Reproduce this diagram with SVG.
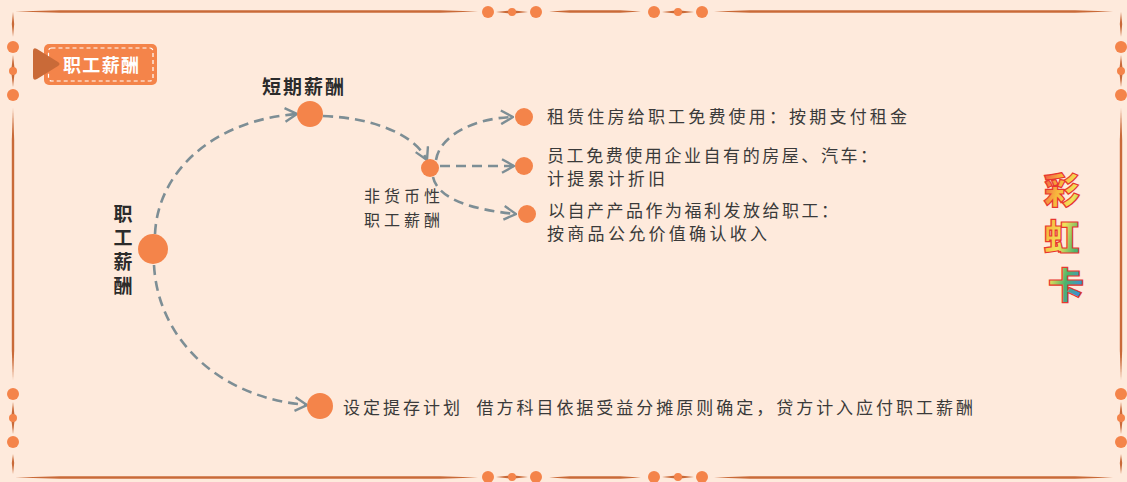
<svg xmlns="http://www.w3.org/2000/svg" xmlns:xlink="http://www.w3.org/1999/xlink" width="1127" height="482" viewBox="0 0 1127 482">
  <defs>
    <style>
      .bg { fill: #FEEADC; }
      .rule { fill: #C96A38; }
      .dot { fill: #F4844A; }
      .link { fill: none; stroke: #7D8E95; stroke-width: 2.6; stroke-dasharray: 10 6; stroke-linecap: butt; }
      .cjk { font-family: "Noto Sans CJK SC", "Noto Sans", sans-serif; }
      .head { font-size: 19px; font-weight: 700; fill: #2b2b2b; }
      .vert { writing-mode: vertical-rl; letter-spacing: 5px; }
      .body { font-size: 17px; font-weight: 400; fill: #3a3a3a; }
      .sub { font-size: 16px; font-weight: 400; fill: #3a3a3a; }
      .badge-text { font-size: 18px; font-weight: 700; fill: #ffffff; }
      .rainbow { font-size: 36px; font-weight: 900; fill: url(#rainbowFill); stroke: #E8372F; stroke-width: 1.2; }
    </style>
    <linearGradient id="rainbowFill" x1="0" y1="0" x2="1" y2="1">
      <stop offset="0" stop-color="#F04848"/>
      <stop offset="0.25" stop-color="#F7B63C"/>
      <stop offset="0.45" stop-color="#F2E25A"/>
      <stop offset="0.65" stop-color="#4FB56A"/>
      <stop offset="0.85" stop-color="#3C8FD6"/>
      <stop offset="1" stop-color="#9A5BC8"/>
    </linearGradient>
    <marker id="chev" viewBox="0 0 14 16" refX="13" refY="8" markerWidth="14" markerHeight="16" markerUnits="userSpaceOnUse" orient="auto">
      <path d="M1,1.2 L13,8 L1,14.8" fill="none" stroke="#7D8E95" stroke-width="2.4" stroke-linejoin="miter"/>
    </marker>
    <!-- three-dot ornament used along the frame -->
    <g id="orn">
      <polygon class="rule" points="-16,0 0,-1.8 16,0 0,1.8"/>
      <circle class="dot" cx="-24" cy="0" r="6"/>
      <circle class="dot" cx="0" cy="0" r="4"/>
      <circle class="dot" cx="24" cy="0" r="6"/>
    </g>
  </defs>

  <rect class="bg" x="0" y="0" width="1127" height="482"/>

  <!-- decorative frame -->
  <g id="frame">
    <!-- top -->
    <polygon class="rule" points="15,11.5 60,10.3 440,10.3 478,11.5 440,12.7 60,12.7"/>
    <polygon class="rule" points="549,11.5 570,10.3 620,10.3 641,11.5 620,12.7 570,12.7"/>
    <polygon class="rule" points="714,11.5 750,10.3 1075,10.3 1113,11.5 1075,12.7 750,12.7"/>
    <use xlink:href="#orn" transform="translate(512,12)"/>
    <use xlink:href="#orn" transform="translate(678,12)"/>
    <!-- bottom -->
    <polygon class="rule" points="15,477.5 60,476.3 440,476.3 478,477.5 440,478.7 60,478.7"/>
    <polygon class="rule" points="549,477.5 570,476.3 620,476.3 641,477.5 620,478.7 570,478.7"/>
    <polygon class="rule" points="714,477.5 750,476.3 1075,476.3 1113,477.5 1075,478.7 750,478.7"/>
    <use xlink:href="#orn" transform="translate(512,477)"/>
    <use xlink:href="#orn" transform="translate(678,477)"/>
    <!-- left -->
    <polygon class="rule" points="13,12 14.2,24 13,37 11.8,24"/>
    <polygon class="rule" points="13,108 14.2,140 14.2,350 13,380 11.8,350 11.8,140"/>
    <polygon class="rule" points="13,454 14.2,463 13,474 11.8,463"/>
    <use xlink:href="#orn" transform="translate(13,71) rotate(90)"/>
    <use xlink:href="#orn" transform="translate(13,418) rotate(90)"/>
    <!-- right -->
    <polygon class="rule" points="1121,12 1122.2,24 1121,37 1119.8,24"/>
    <polygon class="rule" points="1121,108 1122.2,140 1122.2,350 1121,380 1119.8,350 1119.8,140"/>
    <polygon class="rule" points="1121,454 1122.2,463 1121,474 1119.8,463"/>
    <use xlink:href="#orn" transform="translate(1121,71) rotate(90)"/>
    <use xlink:href="#orn" transform="translate(1121,418) rotate(90)"/>
  </g>

  <!-- title badge -->
  <g id="badge">
    <rect x="44" y="44" width="113" height="41" rx="5" fill="#F4844A"/>
    <rect x="48.5" y="48" width="104.5" height="33" rx="3" fill="none" stroke="#FFFFFF" stroke-width="1.2" stroke-dasharray="4 3"/>
    <path d="M33,51 Q33,47 37,49 L58,62 Q61,64 58,66 L37,79 Q33,81 33,77 Z" fill="#C96A38"/>
    <text class="cjk badge-text" x="101" y="72" text-anchor="middle" textLength="76" lengthAdjust="spacing">职工薪酬</text>
  </g>

  <!-- connectors -->
  <g id="connectors">
    <path class="link" d="M155,234 C158,170 215,120 297,114" marker-end="url(#chev)"/>
    <path class="link" d="M323,116 C375,118 415,135 427,160" marker-end="url(#chev)"/>
    <path class="link" d="M436,160 C440,135 475,118 513,117" marker-end="url(#chev)"/>
    <path class="link" d="M440,166 L514,166" marker-end="url(#chev)"/>
    <path class="link" d="M433,177 C438,200 475,210 516,214" marker-end="url(#chev)"/>
    <path class="link" d="M154,265 C158,340 220,398 307,405" marker-end="url(#chev)"/>
  </g>

  <!-- root node -->
  <g id="node-root">
    <circle class="dot" cx="153" cy="249" r="15"/>
    <text class="cjk head vert" x="123" y="204">职工薪酬</text>
  </g>

  <!-- short-term pay -->
  <g id="node-short">
    <circle class="dot" cx="310" cy="114" r="13"/>
    <text class="cjk head" x="303" y="94" text-anchor="middle" textLength="82" lengthAdjust="spacing">短期薪酬</text>
  </g>

  <!-- non-monetary pay -->
  <g id="node-nonmonetary">
    <circle class="dot" cx="430" cy="168" r="9"/>
    <text class="cjk sub" x="402" y="202" text-anchor="middle" textLength="76" lengthAdjust="spacing">非货币性</text>
    <text class="cjk sub" x="402" y="226" text-anchor="middle" textLength="76" lengthAdjust="spacing">职工薪酬</text>
  </g>

  <g id="node-rent">
    <circle class="dot" cx="524" cy="117" r="9"/>
    <text class="cjk body" x="547" y="123" textLength="360" lengthAdjust="spacing">租赁住房给职工免费使用：按期支付租金</text>
  </g>

  <g id="node-own-assets">
    <circle class="dot" cx="524" cy="166" r="9"/>
    <text class="cjk body" x="547" y="162" textLength="330" lengthAdjust="spacing">员工免费使用企业自有的房屋、汽车：</text>
    <text class="cjk body" x="547" y="185" textLength="118" lengthAdjust="spacing">计提累计折旧</text>
  </g>

  <g id="node-products">
    <circle class="dot" cx="527" cy="214" r="9"/>
    <text class="cjk body" x="548" y="217" textLength="290" lengthAdjust="spacing">以自产产品作为福利发放给职工：</text>
    <text class="cjk body" x="547" y="240" textLength="220" lengthAdjust="spacing">按商品公允价值确认收入</text>
  </g>

  <!-- defined contribution plan -->
  <g id="node-plan">
    <circle class="dot" cx="320" cy="406" r="13"/>
    <text class="cjk body" x="343" y="414" xml:space="preserve" textLength="630" lengthAdjust="spacing">设定提存计划  借方科目依据受益分摊原则确定，贷方计入应付职工薪酬</text>
  </g>

  <!-- side caption -->
  <g id="rainbow-caption">
    <text class="cjk rainbow" text-anchor="middle">
      <tspan x="1066" y="204">彩</tspan>
      <tspan x="1066" y="251">虹</tspan>
      <tspan x="1066" y="299">卡</tspan>
    </text>
  </g>
</svg>
